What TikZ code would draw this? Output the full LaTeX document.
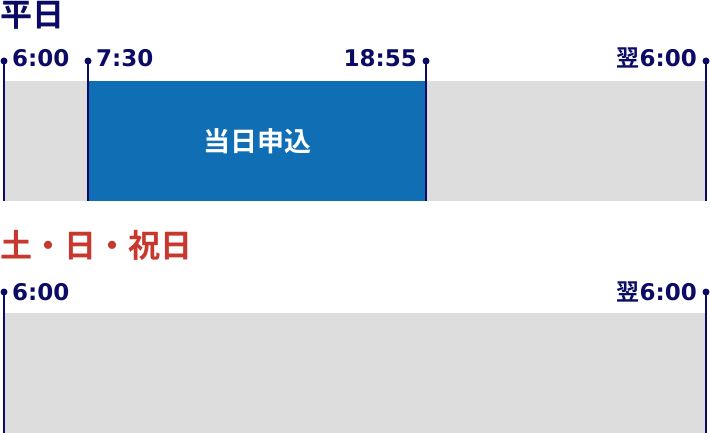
\documentclass[tikz,border=0pt]{standalone}
\usepackage{fontspec}
\setmainfont{Noto Sans CJK JP}[BoldFont={Noto Sans CJK JP Bold}]
\newfontfamily\digitfont{DejaVu Sans Bold}
\usetikzlibrary{positioning}
\definecolor{navy}{HTML}{0B0B66}
\definecolor{barblue}{HTML}{0F6EB4}
\definecolor{bargray}{HTML}{DDDDDD}
\definecolor{holired}{HTML}{C7382E}
\tikzset{
  tick/.style={circle,fill=navy,inner sep=0pt,minimum size=7pt},
  stem/.style={navy,line width=1.9pt},
  time/.style={text=navy,inner sep=0pt,font=\digitfont\fontsize{23}{23}\selectfont},
  heading/.style={inner sep=0pt,anchor=base west,font=\bfseries\fontsize{32}{32}\selectfont},
}
\newcommand{\nextday}{{\rmfamily\bfseries\fontsize{23}{23}\selectfont 翌}}

\begin{document}
\begin{tikzpicture}[x=1pt,y=-1pt]
      \useasboundingbox (0,0) rectangle (710,433);
      %% Weekday
      \node[heading,text=navy] (wd) at (0,27) {平日};
      \fill[bargray] (4,81) rectangle (706,201);
      \node[fill=barblue,text=white,inner sep=0pt,anchor=north west,
            minimum width=338pt,minimum height=120pt,
            font=\bfseries\fontsize{27}{27}\selectfont] (same) at (88,81) {当日申込};
      \node[tick] (w1) at (4,61) {};
      \node[tick] (w2) at (88,61) {};
      \node[tick] (w3) at (426,61) {};
      \node[tick] (w4) at (706,61) {};
      \coordinate (w1b) at (4,201);
      \coordinate (w2b) at (88,201);
      \coordinate (w3b) at (426,201);
      \coordinate (w4b) at (706,201);
      \foreach \i in {1,...,4}
        \draw[stem] (w\i.center) -- (w\i b);
      %% Times
      \node[time,anchor=base west] (t1) at (12,67) {6:00};
      \node[time,anchor=base west] (t2) at (96,67) {7:30};
      \node[time,anchor=base east] (t3) at (417,67) {18:55};
      \node[time,anchor=base east] (t4) at (697,67) {\nextday6:00};
      %% Holidays
      \node[heading,text=holired] (hd) at (0,258) {土・日・祝日};
      \fill[bargray] (4,313) rectangle (706,433);
      \node[tick] (h1) at (4,292) {};
      \node[tick] (h2) at (706,292) {};
      \coordinate (h1b) at (4,433);
      \coordinate (h2b) at (706,433);
      \draw[stem] (h1.center) -- (h1b);
      \draw[stem] (h2.center) -- (h2b);
      \node[time,anchor=base west] (t5) at (12,300) {6:00};
      \node[time,anchor=base east] (t6) at (697,300) {\nextday6:00};
\end{tikzpicture}
\end{document}
